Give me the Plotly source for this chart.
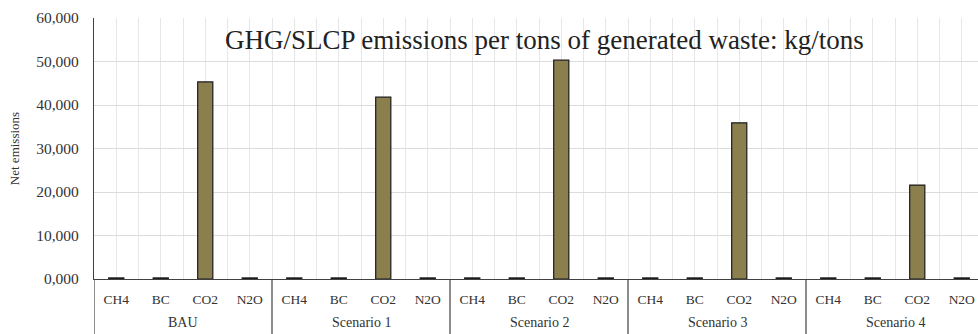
import plotly.graph_objects as go

scenarios = ["BAU", "Scenario 1", "Scenario 2", "Scenario 3", "Scenario 4"]
gases = ["CH4", "BC", "CO2", "N2O"]
# net emissions per scenario, in gas order CH4, BC, CO2, N2O
bau = [250, 250, 45300, 250]
scenario1 = [250, 250, 41800, 250]
scenario2 = [250, 250, 50300, 250]
scenario3 = [250, 250, 35900, 250]
scenario4 = [250, 250, 21600, 250]
y_tickvals = [0, 10000, 20000, 30000, 40000, 50000, 60000]
y_ticktext = ["0,000", "10,000", "20,000", "30,000", "40,000", "50,000", "60,000"]
title_text = "GHG/SLCP emissions per tons of generated waste: kg/tons"

series = [bau, scenario1, scenario2, scenario3, scenario4]
cat, vals = [], []
for v in series:
    for g, val in zip(gases, v):
        cat.append(g)
        vals.append(val)

n = len(vals)
idx = list(range(n))
xr = [-0.5, n - 0.5 - 6 / 44.5]
serif = "Liberation Serif, Times New Roman, DejaVu Serif, serif"
txt = "#333333"

# tick positions at every half category: labels at centres, blanks at boundaries
tickvals, ticktext = [], []
for i, c in zip(idx, cat):
    tickvals += [i - 0.5, i]
    ticktext += ["", c]

ng = len(gases)
boundaries = [k * ng - 0.5 for k in range(len(scenarios) + 1)]
centres = [k * ng + (ng - 1) / 2 for k in range(len(scenarios))]

fig = go.Figure()
fig.add_trace(go.Bar(x=idx, y=vals,
                     marker=dict(color="#8c7f4e", line=dict(color="#1a1a1a", width=1.2)),
                     width=0.34, showlegend=False))

shapes = [dict(type="line", xref="x", yref="paper", x0=b, x1=b, y0=0, y1=-0.25,
               line=dict(color="#404040", width=1.2)) for b in boundaries]
# white backing behind the chart title (above grid, below bars)
shapes.append(dict(type="rect", xref="x", yref="y", x0=2.0, x1=17.0, y0=50250, y1=59900,
                   fillcolor="white", line=dict(width=0), layer="below"))
annotations = [dict(text=s, xref="x", yref="paper", x=c, y=0, yanchor="middle",
                    yshift=-43, showarrow=False, font=dict(family=serif, size=14, color=txt))
               for s, c in zip(scenarios, centres)]
annotations.append(dict(text=title_text, xref="paper", yref="paper", x=0.51, y=0.915,
                        xanchor="center", yanchor="middle",
                        showarrow=False, font=dict(family=serif, size=27, color="#222222")))

fig.update_layout(
    width=978, height=334,
    margin=dict(l=94, r=0, t=18, b=55),
    plot_bgcolor="white", paper_bgcolor="white",
    font=dict(family=serif, color=txt),
    xaxis=dict(range=xr, tickmode="array", tickvals=tickvals, ticktext=ticktext,
               showgrid=True, gridcolor="#e6e6e6", gridwidth=1, ticks="",
               zeroline=False, showline=True, linecolor="#404040", linewidth=1.2,
               ticklabelstandoff=8, automargin=False,
               tickfont=dict(family=serif, size=13.5, color=txt)),
    yaxis=dict(range=[0, 60000], tickvals=y_tickvals, ticktext=y_ticktext,
               showgrid=True, gridcolor="#dcdcdc", gridwidth=1, zeroline=False,
               showline=True, linecolor="#404040", linewidth=1.2, ticks="",
               ticklabelstandoff=11, automargin=False,
               tickfont=dict(family=serif, size=15.5, color=txt),
               title=dict(text="Net emissions", font=dict(family=serif, size=13, color=txt),
                          standoff=13)),
    shapes=shapes,
    annotations=annotations,
)

fig.write_html("out.html", config={"displayModeBar": False},
               post_script="document.body.style.margin='0';")
